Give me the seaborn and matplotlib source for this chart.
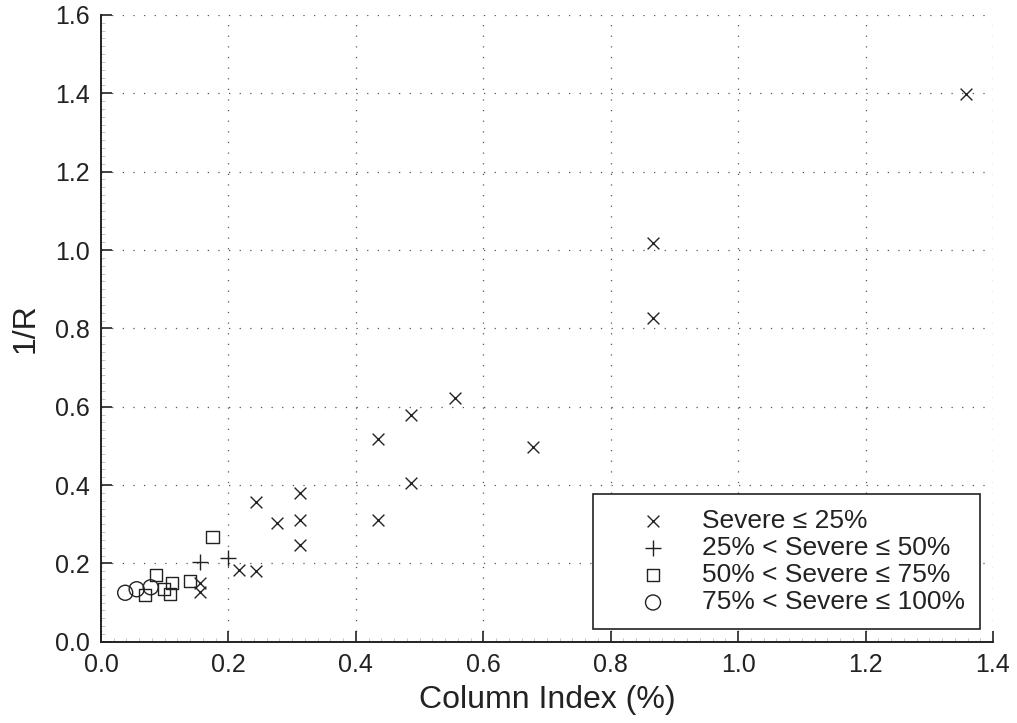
import matplotlib
matplotlib.use("Agg")
import matplotlib.pyplot as plt
from matplotlib.ticker import MultipleLocator
import seaborn as sns
import pandas as pd

# Data
g1_x = [1.357, 0.866, 0.866, 0.555, 0.678, 0.487, 0.434, 0.487, 0.434, 0.244,
        0.312, 0.312, 0.277, 0.312, 0.217, 0.243, 0.155, 0.155]
g1_y = [1.398, 1.019, 0.826, 0.621, 0.496, 0.579, 0.517, 0.404, 0.311, 0.357,
        0.379, 0.311, 0.302, 0.247, 0.183, 0.181, 0.151, 0.126]
g2_x = [0.155, 0.200]
g2_y = [0.203, 0.214]
g3_x = [0.175, 0.087, 0.139, 0.112, 0.099, 0.108, 0.069]
g3_y = [0.268, 0.170, 0.155, 0.151, 0.134, 0.122, 0.119]
g4_x = [0.038, 0.056, 0.078]
g4_y = [0.125, 0.134, 0.139]
labels = ["Severe \u2264 25%", "25% < Severe \u2264 50%",
          "50% < Severe \u2264 75%", "75% < Severe \u2264 100%"]

sns.set_theme(style="white")
plt.rcParams['font.family'] = ['Liberation Sans', 'DejaVu Sans']

fig = plt.figure(figsize=(10.17, 7.23), dpi=100)
ax = fig.add_axes([0.0993, 0.1124, 0.8771, 0.8669])

groups = [(g1_x, g1_y, 'x', 72), (g2_x, g2_y, '+', 133),
          (g3_x, g3_y, 's', 75), (g4_x, g4_y, 'o', 117)]
for (gx, gy, mk, sz), lab in zip(groups, labels):
    df = pd.DataFrame({'x': gx, 'y': gy})
    if mk in ('s', 'o'):
        sns.scatterplot(data=df, x='x', y='y', ax=ax, marker=mk, s=sz,
                        facecolors='none', edgecolors='#222222', linewidth=1.0,
                        label=lab)
    else:
        sns.scatterplot(data=df, x='x', y='y', ax=ax, marker=mk, s=sz,
                        color='#222222', linewidth=1.0, label=lab)

ax.set_xlim(0, 1.4)
ax.set_ylim(0, 1.6)
ax.xaxis.set_major_locator(MultipleLocator(0.2))
ax.yaxis.set_major_locator(MultipleLocator(0.2))
ax.xaxis.set_minor_locator(MultipleLocator(0.02))
ax.yaxis.set_minor_locator(MultipleLocator(0.02))
ax.xaxis.set_major_formatter(plt.FuncFormatter(lambda v, p: f"{v:.1f}"))
ax.yaxis.set_major_formatter(plt.FuncFormatter(lambda v, p: f"{v:.1f}"))

ax.grid(True, which='major', color='#555555', linestyle=(0, (1, 7.5)), linewidth=0.9)
for s in ['top', 'right']:
    ax.spines[s].set_visible(False)
for s in ['left', 'bottom']:
    ax.spines[s].set_color('#222222')
    ax.spines[s].set_linewidth(1.4)

ax.tick_params(which='major', direction='in', length=8, width=1.2, color='#222222',
               labelsize=18, labelcolor='#222222', pad=8, bottom=True, left=True)
ax.tick_params(which='minor', direction='in', length=3, width=0.5, color='#aaaaaa',
               bottom=True, left=True)

ax.set_xlabel("Column Index (%)", fontsize=23, color='#222222', labelpad=6)
ax.set_ylabel("1/R", fontsize=23, color='#222222', labelpad=10)

leg = ax.legend(loc='lower right', bbox_to_anchor=(0.985, 0.02), fontsize=19,
                frameon=True, fancybox=False, edgecolor='#222222',
                handletextpad=0.15, labelspacing=0.12, borderpad=0.56,
                borderaxespad=0, handlelength=3.4)
leg.get_frame().set_linewidth(1.2)
leg.get_frame().set_alpha(1)
for t in leg.get_texts():
    t.set_color('#222222')

fig.savefig("out.png", dpi=100)
